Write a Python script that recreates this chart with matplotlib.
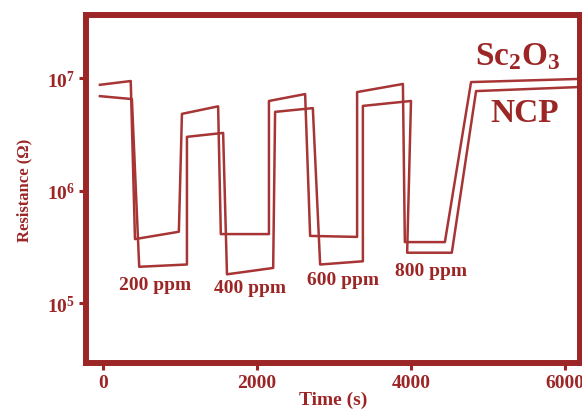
import matplotlib
matplotlib.use('Agg')
import math
import matplotlib.pyplot as plt
from matplotlib.ticker import FixedLocator, FuncFormatter, NullLocator

# valores
t_sc = [-40, 360, 415, 985, 1025, 1495, 1530, 2155, 2155, 2625, 2690, 3300,
        3300, 3895, 3920, 4440, 4780, 6155]
r_sc = [8.7e6, 9.4e6, 3.7e5, 4.3e5, 4.8e6, 5.6e6, 4.1e5, 4.1e5, 6.25e6, 7.2e6,
        3.95e5, 3.87e5, 7.5e6, 8.85e6, 3.48e5, 3.48e5, 9.2e6, 9.8e6]

t_ncp = [-40, 375, 470, 1090, 1090, 1560, 1610, 2210, 2235, 2725, 2820, 3375,
         3375, 4000, 3950, 4530, 4845, 6155]
r_ncp = [6.9e6, 6.5e6, 2.1e5, 2.2e5, 3.0e6, 3.25e6, 1.8e5, 2.05e5, 5.0e6, 5.4e6,
         2.2e5, 2.35e5, 5.65e6, 6.25e6, 2.8e5, 2.8e5, 7.65e6, 8.3e6]

etiquetas = ['200 ppm', '400 ppm', '600 ppm', '800 ppm']
x_ticks = [0, 2000, 4000, 6000]
y_ticks = [1e5, 1e6, 1e7]

rojo = '#9c2626'
linea = '#a83535'

plt.rcParams['font.family'] = ['Liberation Serif', 'DejaVu Serif']
plt.rcParams['font.weight'] = 'bold'
plt.rcParams['axes.labelweight'] = 'bold'

fig = plt.figure(figsize=(5.82, 4.10), dpi=100)
ax = fig.add_axes([86/582, 46/410, 494/582, 348/410])

ax.plot(t_sc, r_sc, color=linea, linewidth=1.8)
ax.plot(t_ncp, r_ncp, color=linea, linewidth=1.8)

ax.set_yscale('log')
ax.set_xlim(-221, 6195)
ax.set_ylim(10**4.467, 10**7.56)

ax.xaxis.set_major_locator(FixedLocator(x_ticks))
ax.yaxis.set_major_locator(FixedLocator(y_ticks))
ax.yaxis.set_minor_locator(NullLocator())
ax.yaxis.set_major_formatter(FuncFormatter(
    lambda v, p: r'$\mathregular{10^{%d}}$' % round(math.log10(v))))

for s in ax.spines.values():
    s.set_color(rojo)
    s.set_linewidth(4.3)
ax.tick_params(direction='out', length=5, width=2.2, color=rojo,
               labelcolor=rojo, labelsize=14, pad=3)
ax.tick_params(axis='x', pad=3)

ax.set_xlabel('Time (s)', color=rojo, fontsize=14, labelpad=0)
ax.set_ylabel('Resistance (Ω)', color=rojo, fontsize=12, labelpad=10)

# concentraciones
pos = [(0.140, 0.227), (0.332, 0.216), (0.520, 0.239), (0.698, 0.267)]
for (x, y), txt in zip(pos, etiquetas):
    ax.text(x, y, txt, transform=ax.transAxes, ha='center', va='center',
            color=rojo, fontsize=14)

ax.text(0.874, 0.859, r'$\mathregular{Sc_2O_3}$', transform=ax.transAxes,
        ha='center', va='baseline', color=rojo, fontsize=24)
ax.text(0.889, 0.695, 'NCP', transform=ax.transAxes, ha='center',
        va='baseline', color=rojo, fontsize=24)

fig.savefig('out.png', dpi=100)
